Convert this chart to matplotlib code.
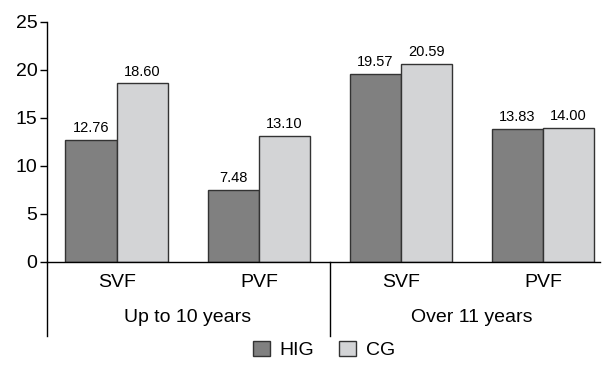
import numpy as np
import matplotlib
matplotlib.use('Agg')
import matplotlib.pyplot as plt

plt.rcParams['font.family'] = ['Liberation Sans', 'DejaVu Sans']

# data
categories = ['SVF', 'PVF', 'SVF', 'PVF']
periods = ['Up to 10 years', 'Over 11 years']
hig = [12.76, 7.48, 19.57, 13.83]
cg = [18.60, 13.10, 20.59, 14.00]
series_names = ['HIG', 'CG']
colors = ['#808080', '#d3d4d6']

fig = plt.figure(figsize=(6.02, 3.65), dpi=100)
ax = fig.add_axes([47 / 602, 103 / 365, 553 / 602, 240 / 365])

x = np.arange(len(categories))
w = 0.36
b1 = ax.bar(x - w / 2, hig, w, color=colors[0], edgecolor='#333333', linewidth=1.0, label=series_names[0])
b2 = ax.bar(x + w / 2, cg, w, color=colors[1], edgecolor='#333333', linewidth=1.0, label=series_names[1])

for bars in (b1, b2):
    for r in bars:
        ax.annotate(f'{r.get_height():.2f}', (r.get_x() + r.get_width() / 2, r.get_height()),
                    xytext=(0, 3.5), textcoords='offset points', ha='center', va='bottom', fontsize=10.5)

ax.set_ylim(0, 25)
ax.set_xlim(-0.49, 3.40)
ax.set_yticks(range(0, 26, 5))
ax.tick_params(axis='y', labelsize=14, length=5, width=1, pad=2)
ax.set_xticks([])
for s in ('top', 'right'):
    ax.spines[s].set_visible(False)
ax.spines['left'].set_linewidth(1)
ax.spines['bottom'].set_linewidth(1)

# category and period labels below the axis
for xi, c in zip(x, categories):
    ax.text(xi, -2.15, c, ha='center', va='center', fontsize=14)
for i, p in enumerate(periods):
    ax.text(2 * i + 0.5, -5.8, p, ha='center', va='center', fontsize=14)

# extended axis line and group divider
for xv in (-0.49, 1.5):
    ax.plot([xv, xv], [0, -7.7], color='black', lw=1, clip_on=False)

fig.legend(handles=[b1, b2], labels=series_names, loc='center', bbox_to_anchor=(324 / 602, 15 / 365),
           ncol=2, frameon=False, fontsize=14, handlelength=0.85, handleheight=0.85,
           handletextpad=0.5, columnspacing=1.3, borderpad=0)

fig.savefig('out.png', dpi=100)
